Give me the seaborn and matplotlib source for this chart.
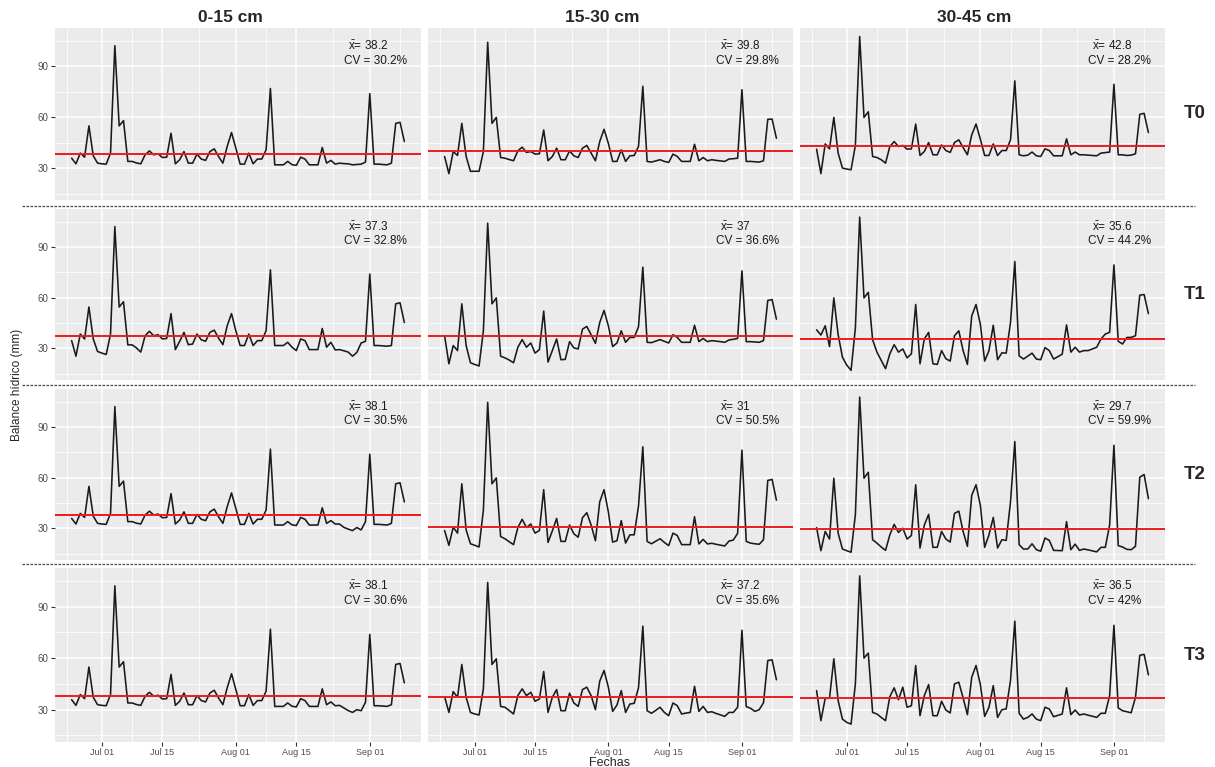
import pandas as pd
import matplotlib
matplotlib.use("Agg")
import matplotlib.pyplot as plt
import matplotlib.dates as mdates
from matplotlib.lines import Line2D
from matplotlib.ticker import FixedLocator
import seaborn as sns

fechas = pd.date_range("2019-06-24", "2019-09-09", freq="D")
profundidades = ["0-15 cm", "15-30 cm", "30-45 cm"]
tratamientos = ["T0", "T1", "T2", "T3"]

# balance hidrico diario (mm), 24 jun - 9 sep
t0_0_15 = [35.8, 32.5, 38.8, 36.4, 54.8, 37.2, 32.9,
           32.5, 32.3, 38.8, 102.0, 54.8, 57.9, 33.9, 33.9, 33.0, 32.5,
           37.8, 40.1, 37.8, 38.4, 36.2, 36.4, 50.5, 32.5, 34.9, 39.7,
           32.9, 32.9, 38.2, 35.3, 34.5, 39.7, 41.3, 36.8, 32.9, 42.7,
           50.9, 41.7, 32.3, 32.3, 38.8, 32.5, 35.3, 35.3, 40.7, 76.8,
           31.9, 31.9, 31.9, 33.9, 32.0, 31.6, 36.4, 35.3, 31.9, 31.9,
           31.9, 42.1, 32.9, 34.5, 32.3, 32.9, 32.6, 32.5, 31.9, 32.1,
           32.3, 33.5, 73.8, 32.3, 32.3, 32.1, 31.9, 32.9, 56.3, 56.9, 45.6]
t0_15_30 = [36.8, 26.7, 39.7, 37.4, 56.3, 36.8, 28.1,
            28.1, 28.1, 39.7, 104.0, 56.3, 59.8, 36.2, 35.8, 35.0, 34.3,
            40.1, 42.3, 39.2, 39.7, 38.2, 38.4, 52.4, 34.3, 36.8, 41.7,
            34.9, 34.9, 40.1, 37.2, 36.2, 41.7, 43.3, 38.8, 34.3, 45.6,
            52.8, 44.6, 33.9, 33.9, 40.7, 33.9, 37.2, 37.4, 42.7, 78.1,
            33.9, 33.5, 34.2, 34.9, 33.9, 33.3, 38.2, 36.8, 33.9, 33.9,
            33.9, 44.0, 34.3, 36.2, 34.3, 34.9, 34.5, 34.2, 33.9, 35.3,
            35.5, 35.8, 76.1, 33.9, 33.9, 33.7, 33.5, 34.3, 58.7, 58.8, 47.5]
t0_30_45 = [41.1, 26.7, 44.2, 41.3, 59.8, 38.8, 30.0,
            29.4, 29.0, 43.3, 107.4, 59.8, 63.1, 36.8, 36.2, 34.9, 32.9,
            42.7, 45.6, 42.7, 43.3, 41.1, 41.3, 55.9, 37.4, 39.7, 45.0,
            37.8, 37.8, 43.6, 40.3, 39.2, 45.0, 46.6, 42.1, 37.8, 49.5,
            55.9, 47.0, 37.4, 37.4, 44.2, 37.4, 40.3, 40.3, 46.6, 81.3,
            37.8, 37.2, 37.6, 39.4, 37.2, 36.8, 41.3, 40.3, 37.2, 37.2,
            37.2, 47.2, 37.8, 39.4, 37.8, 37.8, 37.6, 37.4, 37.2, 38.8,
            39.1, 39.4, 79.3, 37.8, 37.8, 37.4, 37.6, 38.4, 61.6, 62.2, 50.9]

t1_0_15 = [34.5, 25.3, 38.4, 35.5, 54.4, 35.5, 28.1,
           27.1, 26.3, 38.4, 102.0, 54.4, 57.5, 32.0, 32.0, 30.2, 27.7,
           37.4, 40.0, 37.4, 38.0, 35.5, 35.8, 50.5, 29.2, 34.1, 39.4,
           32.1, 32.5, 38.4, 35.0, 34.1, 39.4, 40.7, 36.0, 32.1, 43.3,
           50.5, 40.3, 31.6, 31.6, 38.4, 31.6, 34.5, 34.5, 40.3, 76.4,
           31.6, 31.6, 31.6, 33.5, 30.6, 28.6, 35.5, 34.5, 29.2, 29.2,
           29.2, 41.7, 30.6, 33.5, 29.0, 29.2, 28.5, 27.7, 25.3, 27.5,
           33.1, 34.1, 73.9, 31.6, 31.6, 31.4, 31.2, 31.6, 56.3, 56.9, 45.2]
t1_15_30 = [37.4, 20.8, 31.6, 28.6, 56.3, 31.6, 21.4,
            20.4, 19.5, 40.3, 104.0, 56.3, 59.8, 25.3, 24.3, 23.0, 21.4,
            30.6, 35.1, 30.6, 33.1, 27.1, 29.2, 52.0, 21.8, 28.6, 35.5,
            23.2, 23.4, 33.9, 30.2, 29.6, 41.3, 42.9, 38.0, 32.9, 45.2,
            52.4, 43.3, 31.0, 33.1, 40.3, 33.5, 36.4, 36.4, 42.7, 78.0,
            33.5, 33.3, 34.2, 35.1, 34.1, 33.1, 38.0, 36.4, 33.5, 33.5,
            33.5, 43.6, 33.9, 35.8, 33.9, 34.5, 34.2, 33.9, 33.5, 34.9,
            35.3, 35.8, 75.8, 33.9, 33.9, 33.7, 33.5, 34.5, 58.3, 58.8, 47.2]
t1_30_45 = [40.9, 37.8, 43.3, 31.0, 59.8, 38.0, 24.7,
            20.0, 16.9, 42.0, 107.6, 59.8, 63.1, 35.0, 27.7, 22.8, 17.9,
            26.7, 32.1, 27.7, 29.6, 24.3, 26.7, 55.9, 20.8, 35.5, 39.4,
            20.8, 20.4, 28.6, 23.8, 22.4, 37.4, 40.3, 28.6, 20.4, 49.1,
            55.9, 44.2, 22.4, 28.6, 43.6, 23.2, 27.3, 27.1, 45.2, 81.3,
            25.5, 23.6, 25.3, 27.1, 23.6, 23.2, 30.4, 28.6, 23.6, 25.0,
            26.5, 43.8, 27.7, 30.6, 27.7, 28.6, 28.6, 29.6, 30.6, 35.5,
            38.4, 39.4, 79.3, 34.1, 32.5, 36.4, 36.4, 37.4, 61.4, 61.8, 50.5]

t2_0_15 = [35.8, 32.5, 38.8, 36.4, 54.8, 37.2, 32.9,
           32.5, 32.3, 38.8, 102.0, 54.8, 57.9, 33.9, 33.9, 33.0, 32.5,
           37.8, 40.1, 37.8, 38.4, 36.2, 36.4, 50.5, 32.5, 34.9, 39.7,
           32.9, 32.9, 38.2, 35.3, 34.5, 39.7, 41.3, 36.8, 32.9, 42.7,
           50.9, 41.7, 32.3, 32.3, 38.8, 32.5, 35.3, 35.3, 40.7, 76.8,
           31.9, 31.9, 31.9, 33.9, 32.0, 31.6, 36.4, 35.3, 31.9, 31.9,
           31.9, 42.1, 32.9, 34.5, 32.5, 32.5, 30.5, 29.5, 28.6, 30.4,
           29.0, 33.9, 73.8, 32.3, 32.3, 32.1, 31.9, 32.9, 56.3, 56.9, 45.6]
t2_15_30 = [28.6, 19.9, 30.6, 27.1, 56.3, 29.0, 20.8,
            19.9, 18.9, 40.7, 104.5, 56.3, 59.8, 25.1, 23.8, 22.0, 20.3,
            30.4, 35.3, 30.4, 32.5, 27.1, 28.6, 52.8, 21.6, 28.4, 35.8,
            22.2, 22.2, 31.9, 26.7, 24.7, 36.2, 39.2, 31.9, 22.6, 45.6,
            52.8, 39.7, 21.8, 22.6, 34.5, 21.2, 26.1, 26.1, 43.1, 78.2,
            22.2, 20.8, 22.3, 23.8, 21.6, 19.7, 27.1, 25.7, 20.3, 20.3,
            20.3, 36.8, 20.7, 23.4, 20.7, 21.1, 20.5, 20.0, 19.5, 22.4,
            23.0, 27.0, 76.2, 22.2, 21.2, 20.8, 20.5, 23.2, 58.3, 58.9, 46.6]
t2_30_45 = [30.4, 16.7, 28.1, 23.6, 59.6, 27.1, 17.7,
            16.7, 15.8, 38.0, 107.6, 59.6, 63.1, 23.2, 21.2, 18.9, 16.9,
            26.1, 32.3, 27.5, 30.0, 23.6, 25.7, 55.7, 18.3, 31.9, 38.2,
            18.7, 18.7, 28.1, 23.6, 21.8, 38.8, 40.1, 28.1, 19.3, 49.5,
            55.7, 43.6, 18.7, 26.1, 36.4, 18.3, 23.2, 22.8, 45.6, 81.3,
            20.3, 17.7, 17.7, 20.8, 17.3, 16.4, 24.2, 22.8, 16.9, 16.8,
            16.7, 33.9, 17.3, 20.6, 16.9, 17.7, 17.2, 16.6, 16.0, 18.7,
            18.7, 31.9, 79.1, 19.7, 18.9, 17.5, 17.3, 19.3, 60.2, 61.8, 47.5]

t3_0_15 = [35.8, 32.5, 38.8, 36.4, 54.8, 37.2, 32.9,
           32.5, 32.3, 38.8, 102.0, 54.8, 57.9, 33.9, 33.9, 33.0, 32.5,
           37.8, 40.1, 37.8, 38.4, 36.2, 36.4, 50.5, 32.5, 34.9, 39.7,
           32.9, 32.9, 38.2, 35.3, 34.5, 39.7, 41.3, 36.8, 32.9, 42.7,
           50.9, 41.7, 32.3, 32.3, 38.8, 32.5, 35.3, 35.3, 40.7, 76.8,
           31.9, 31.9, 31.9, 33.9, 32.0, 31.6, 36.4, 35.3, 31.9, 31.9,
           31.9, 42.1, 32.9, 34.5, 32.3, 32.5, 31.0, 29.5, 28.4, 30.0,
           29.4, 34.3, 73.8, 32.3, 32.3, 32.1, 31.9, 32.9, 56.3, 56.9, 45.6]
t3_15_30 = [37.6, 28.4, 40.5, 37.2, 56.3, 37.2, 28.4,
            27.5, 26.9, 42.1, 104.0, 56.3, 59.6, 31.9, 31.4, 29.5, 27.5,
            38.2, 42.1, 38.2, 40.1, 34.9, 36.2, 52.2, 28.4, 37.2, 41.7,
            29.4, 29.4, 39.6, 33.9, 31.9, 41.7, 43.1, 38.2, 30.0, 46.6,
            52.8, 43.1, 29.0, 32.7, 41.1, 28.4, 33.3, 33.7, 42.7, 78.6,
            29.4, 27.9, 29.6, 31.4, 28.4, 26.5, 33.9, 32.3, 27.5, 28.0,
            28.4, 43.6, 29.0, 31.9, 28.4, 28.8, 27.8, 27.0, 26.1, 28.4,
            28.4, 31.4, 76.2, 31.8, 30.8, 29.0, 30.0, 34.0, 58.6, 59.0, 47.4]
t3_30_45 = [41.1, 23.6, 36.6, 36.6, 59.6, 35.3, 24.5,
            22.6, 21.6, 45.0, 107.8, 60.0, 62.9, 28.4, 27.5, 25.5, 23.6,
            37.6, 42.7, 35.8, 43.1, 31.4, 32.3, 55.7, 26.5, 38.2, 44.6,
            26.5, 26.5, 34.9, 29.8, 28.1, 45.0, 46.0, 36.8, 27.1, 48.9,
            55.7, 44.6, 26.1, 31.4, 44.0, 25.5, 30.0, 30.4, 47.0, 81.5,
            27.9, 24.5, 25.5, 27.5, 24.5, 23.6, 31.4, 30.4, 25.9, 26.7,
            27.5, 42.7, 27.1, 29.8, 26.9, 27.5, 26.8, 26.2, 25.5, 27.9,
            27.9, 38.2, 79.1, 31.0, 29.4, 28.8, 28.2, 37.2, 61.6, 62.2, 50.3]

# media y coeficiente de variacion (%) por tratamiento, en orden de profundidad
media_t0 = [38.2, 39.8, 42.8]
media_t1 = [37.3, 37, 35.6]
media_t2 = [38.1, 31, 29.7]
media_t3 = [38.1, 37.2, 36.5]
cv_t0 = [30.2, 29.8, 28.2]
cv_t1 = [32.8, 36.6, 44.2]
cv_t2 = [30.5, 50.5, 59.9]
cv_t3 = [30.6, 35.6, 42]

series = {
    "T0": [t0_0_15, t0_15_30, t0_30_45],
    "T1": [t1_0_15, t1_15_30, t1_30_45],
    "T2": [t2_0_15, t2_15_30, t2_30_45],
    "T3": [t3_0_15, t3_15_30, t3_30_45],
}
medias = {"T0": media_t0, "T1": media_t1, "T2": media_t2, "T3": media_t3}
cvs = {"T0": cv_t0, "T1": cv_t1, "T2": cv_t2, "T3": cv_t3}

partes = []
for trat in tratamientos:
    for prof, vals in zip(profundidades, series[trat]):
        partes.append(pd.DataFrame({"Fechas": fechas, "balance": vals,
                                    "trat": trat, "prof": prof}))
df = pd.concat(partes, ignore_index=True)

sns.set_theme(style="darkgrid")
plt.rcParams["font.family"] = ["Liberation Sans", "DejaVu Sans"]
plt.rcParams["mathtext.fontset"] = "custom"
plt.rcParams["mathtext.rm"] = "Liberation Sans"
plt.rcParams["mathtext.it"] = "Liberation Sans:italic"

W, H = 1215, 767
fig = plt.figure(figsize=(W / 100, H / 100), dpi=100)

col_x = [(55, 421), (428, 793), (800, 1165)]
row_y = [(28, 200), (209, 380), (389, 560), (568, 742)]

lo, hi = df["balance"].min(), df["balance"].max()
ypad = 0.05 * (hi - lo)
span = fechas[-1] - fechas[0]
xlim = (fechas[0] - 0.05 * span, fechas[-1] + 0.05 * span)

mayores = pd.to_datetime(["2019-06-15", "2019-07-01", "2019-07-15", "2019-08-01",
                          "2019-08-15", "2019-09-01", "2019-09-15"])
menores = mayores[:-1] + (mayores[1:] - mayores[:-1]) / 2

for i, trat in enumerate(tratamientos):
    for j, prof in enumerate(profundidades):
        x0, x1 = col_x[j]
        y0, y1 = row_y[i]
        ax = fig.add_axes([x0 / W, 1 - y1 / H, (x1 - x0) / W, (y1 - y0) / H])
        ax.set_facecolor("#EBEBEB")
        for s in ax.spines.values():
            s.set_visible(False)
        sub = df[(df["trat"] == trat) & (df["prof"] == prof)]
        sns.lineplot(data=sub, x="Fechas", y="balance", ax=ax, color="#1a1a1a", lw=1.15)
        ax.axhline(medias[trat][j], color="#ee1c1c", lw=1.4, zorder=3)

        ax.set_xlim(xlim)
        ax.set_ylim(lo - ypad, hi + ypad)
        ax.xaxis.set_major_locator(mdates.DayLocator(bymonthday=[1, 15]))
        ax.xaxis.set_major_formatter(mdates.DateFormatter("%b %d"))
        ax.xaxis.set_minor_locator(FixedLocator(mdates.date2num(menores)))
        ax.yaxis.set_major_locator(FixedLocator([30, 60, 90]))
        ax.yaxis.set_minor_locator(FixedLocator([15, 45, 75, 105]))
        ax.grid(which="major", color="white", lw=1.1)
        ax.grid(which="minor", color="white", lw=0.55)
        ax.set_xlabel("")
        ax.set_ylabel("")
        ax.tick_params(which="major", length=3, width=0.8, color="#333333",
                       labelcolor="#4D4D4D", pad=1.5)
        ax.tick_params(which="minor", length=0)
        ax.tick_params(axis="x", labelsize=6.5, bottom=(i == 3), labelbottom=(i == 3))
        ax.tick_params(axis="y", labelsize=7, left=(j == 0), labelleft=(j == 0))

        m = medias[trat][j]
        cv = cvs[trat][j]
        ax.text(0.80, 0.895, rf"$\bar{{\mathrm{{x}}}}$= {m:g}", transform=ax.transAxes,
                ha="left", va="center", fontsize=8.5, color="#1a1a1a")
        ax.text(0.79, 0.81, f"CV = {cv:g}%", transform=ax.transAxes,
                ha="left", va="center", fontsize=8.5, color="#1a1a1a")

# titulos de columnas y filas
for prof, xc in zip(profundidades, [230, 602, 974]):
    fig.text(xc / W, 1 - 18 / H, prof, ha="center", va="center",
             fontsize=12.5, fontweight="bold")
for trat, (y0, y1) in zip(tratamientos, row_y):
    fig.text(1195 / W, 1 - (y0 + y1) / 2 / H, trat, ha="center", va="center",
             fontsize=13.5, fontweight="bold")

# separadores entre tratamientos
for yl in [206, 385, 564]:
    fig.add_artist(Line2D([22 / W, 1195 / W], [1 - yl / H] * 2, transform=fig.transFigure,
                          color="#444444", lw=0.9, ls=(0, (2, 1.2))))

fig.text(17 / W, 1 - 385 / H, "Balance hídrico (mm)", rotation=90,
         ha="center", va="center", fontsize=8.5)
fig.text(610 / W, 1 - 757 / H, "Fechas", ha="center", va="top", fontsize=9)

fig.savefig("out.png", dpi=100)
